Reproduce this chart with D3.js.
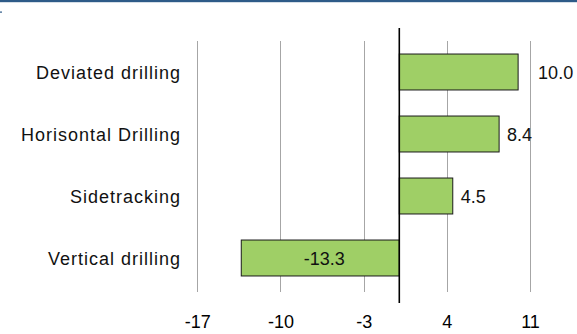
<!DOCTYPE html>
<html>
<head>
<meta charset="utf-8">
<script src="https://cdn.jsdelivr.net/npm/d3@7"></script>
<style>
  html, body { margin: 0; padding: 0; background: #fff; }
  svg { display: block; }
</style>
</head>
<body>
<svg id="chart" width="577" height="334"></svg>
<script>
// Change by drilling type
const categories = ["Deviated drilling", "Horisontal Drilling", "Sidetracking", "Vertical drilling"];
const values = [10.0, 8.4, 4.5, -13.3];
const tickValues = [-17, -10, -3, 4, 11];

const svg = d3.select("#chart");
const W = 577, H = 334;
const font = "'Liberation Sans', Arial, sans-serif";

// plain hyphen for negative numbers
const locale = d3.formatLocale({ decimal: ".", thousands: ",", grouping: [3], currency: ["", ""], minus: "-" });

// header rule
svg.append("rect").attr("x", 0).attr("y", 0).attr("width", W).attr("height", 2.2).attr("fill", "#2e5b88");
svg.append("rect").attr("x", 0).attr("y", 11.5).attr("width", 2).attr("height", 1.2).attr("fill", "#2e5b88");

const x = d3.scaleLinear().domain([-17, 11]).range([197.3, 530]);
const y = d3.scaleBand().domain(categories).range([41, 289]).paddingInner(0.42).paddingOuter(0.21);

// vertical gridlines
svg.append("g").selectAll("line").data(tickValues).join("line")
  .attr("x1", d => Math.round(x(d)) + 0.5).attr("x2", d => Math.round(x(d)) + 0.5)
  .attr("y1", 41).attr("y2", 292)
  .attr("stroke", "#a6a6a6").attr("stroke-width", 1);

// tick labels
const axis = d3.axisBottom(x).tickValues(tickValues).tickSize(0).tickPadding(0).tickFormat(locale.format("d"));
const gAxis = svg.append("g").attr("transform", "translate(0,315)").call(axis);
gAxis.select(".domain").remove();
gAxis.selectAll("text")
  .attr("dy", "0.71em")
  .attr("fill", "#000")
  .style("font-family", font).style("font-size", "18px");

// bars
const data = categories.map((c, i) => ({ cat: c, val: values[i] }));
svg.append("g").selectAll("rect").data(data).join("rect")
  .attr("x", d => x(Math.min(0, d.val)))
  .attr("y", d => y(d.cat))
  .attr("width", d => Math.abs(x(d.val) - x(0)))
  .attr("height", y.bandwidth())
  .attr("fill", "#9fcf66")
  .attr("stroke", "#1a1a1a").attr("stroke-width", 1);

// zero axis line
svg.append("line")
  .attr("x1", x(0)).attr("x2", x(0)).attr("y1", 28).attr("y2", 303)
  .attr("stroke", "#000").attr("stroke-width", 1.6);

// category labels
svg.append("g").selectAll("text").data(categories).join("text")
  .attr("x", 181).attr("y", d => y(d) + y.bandwidth() / 2 + 6.5)
  .attr("text-anchor", "end")
  .attr("fill", "#111")
  .style("font-family", font).style("font-size", "18px").style("letter-spacing", "1px")
  .text(d => d);

// value labels
const fmt = locale.format(".1f");
const extraGap = { "Deviated drilling": 12 };
svg.append("g").selectAll("text").data(data).join("text")
  .attr("x", d => d.val < 0 ? (x(d.val) + x(0)) / 2 + 4 : x(d.val) + 8 + (extraGap[d.cat] || 0))
  .attr("y", d => y(d.cat) + y.bandwidth() / 2 + 6.5)
  .attr("text-anchor", d => d.val < 0 ? "middle" : "start")
  .attr("fill", "#111")
  .style("font-family", font).style("font-size", "18px")
  .text(d => fmt(d.val));
</script>
</body>
</html>
